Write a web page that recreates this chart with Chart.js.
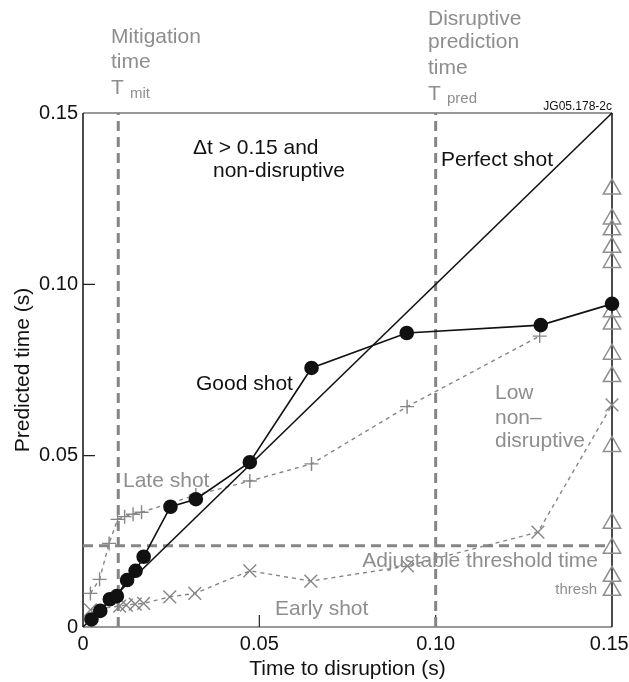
<!DOCTYPE html>
<html>
<head>
<meta charset="utf-8">
<script src="https://cdn.jsdelivr.net/npm/chart.js@4.4.0/dist/chart.umd.min.js"></script>
<style>
  body { margin: 0; background: #fff; }
  canvas { display: block; }
</style>
</head>
<body>
<canvas id="Chart" width="629" height="682"></canvas>
<script>
// good shot (black circles)
var goodX = [0.0024, 0.0049, 0.0076, 0.0096, 0.0125, 0.0149, 0.0172, 0.0248, 0.032, 0.0473, 0.0648, 0.0918, 0.1298, 0.15];
var goodY = [0.0022, 0.0047, 0.0081, 0.0090, 0.0137, 0.0164, 0.0205, 0.0351, 0.0373, 0.0481, 0.0756, 0.0858, 0.0881, 0.0943];
// late shot (+)
var lateX = [0.0021, 0.0047, 0.0074, 0.0098, 0.0118, 0.0142, 0.0166, 0.032, 0.0473, 0.0648, 0.0919, 0.1295];
var lateY = [0.0098, 0.0139, 0.0244, 0.0314, 0.0322, 0.0329, 0.0335, 0.0385, 0.0426, 0.0476, 0.0643, 0.0849];
// early shot (x)
var earlyX = [0.0021, 0.0104, 0.0123, 0.0148, 0.0172, 0.0246, 0.0317, 0.0473, 0.0646, 0.092, 0.129, 0.15];
var earlyY = [0.0050, 0.0061, 0.0064, 0.0067, 0.0069, 0.0088, 0.0098, 0.0164, 0.0134, 0.0178, 0.0277, 0.0648];
// dt > 0.15 and non-disruptive (triangles at the right edge)
var nonDisrX = 0.15;
var nonDisrY = [0.1278, 0.1191, 0.1159, 0.1108, 0.1064, 0.0920, 0.0884, 0.0796, 0.0731, 0.0527, 0.0303, 0.0230, 0.0148, 0.0107];
// perfect shot diagonal
var perfectX = [0, 0.15];
var perfectY = [0, 0.15];
// reference times
var tMit = 0.01;
var tPred = 0.10;
var tThresh = 0.0237;

var xTicks = [0, 0.05, 0.10, 0.15];
var xTickLabels = ['0', '0.05', '0.10', '0.15 '];
var yTicks = [0, 0.05, 0.10, 0.15];
var yTickLabels = ['0', '0.05', '0.10', '0.15'];

var gray = '#8e8e8e';
var dashGray = '#858585';

function pts(xs, ys) {
  return xs.map(function (x, i) { return { x: x, y: ys[i] }; });
}

var notes = [
  { t: 'Mitigation', x: 111, y: 43, c: gray, s: 21 },
  { t: 'time', x: 111, y: 68, c: gray, s: 21 },
  { t: 'T', x: 111, y: 94, c: gray, s: 21 },
  { t: 'mit', x: 130, y: 98, c: gray, s: 15 },
  { t: 'Disruptive', x: 428, y: 25, c: gray, s: 21 },
  { t: 'prediction', x: 428, y: 48, c: gray, s: 21 },
  { t: 'time', x: 428, y: 74, c: gray, s: 21 },
  { t: 'T', x: 428, y: 100, c: gray, s: 21 },
  { t: 'pred', x: 447, y: 103, c: gray, s: 15 },
  { t: 'JG05.178-2c', x: 612, y: 110, c: '#111', s: 12, a: 'right' },
  { t: 'Δt > 0.15 and', x: 193, y: 154, c: '#111', s: 21 },
  { t: 'non-disruptive', x: 213, y: 177, c: '#111', s: 21 },
  { t: 'Perfect shot', x: 441, y: 166, c: '#111', s: 21 },
  { t: 'Good shot', x: 196, y: 390, c: '#111', s: 21 },
  { t: 'Late shot', x: 123, y: 487, c: gray, s: 21 },
  { t: 'Low', x: 495, y: 399, c: gray, s: 21 },
  { t: 'non–', x: 495, y: 424, c: gray, s: 21 },
  { t: 'disruptive', x: 495, y: 447, c: gray, s: 21 },
  { t: 'Adjustable threshold time', x: 598, y: 567, c: gray, s: 21, a: 'right' },
  { t: 'thresh', x: 597, y: 594, c: gray, s: 15, a: 'right' },
  { t: 'Early shot', x: 275, y: 615, c: gray, s: 21 }
];

var framePlugin = {
  id: 'frame',
  beforeDatasetsDraw: function (chart) {
    var ctx = chart.ctx, a = chart.chartArea;
    var xs = chart.scales.x, ys = chart.scales.y;
    ctx.save();
    ctx.lineWidth = 1.5;
    ctx.strokeStyle = '#777';
    ctx.beginPath();
    ctx.moveTo(a.left, a.top); ctx.lineTo(a.right, a.top);
    ctx.moveTo(a.left, a.bottom); ctx.lineTo(a.right, a.bottom);
    ctx.stroke();
    ctx.strokeStyle = '#111';
    ctx.beginPath();
    ctx.moveTo(a.left, a.top); ctx.lineTo(a.left, a.bottom);
    ctx.moveTo(a.right, a.top); ctx.lineTo(a.right, a.bottom);
    ctx.stroke();
    // inward tick marks
    ctx.strokeStyle = '#222';
    ctx.lineWidth = 1.2;
    ctx.beginPath();
    xTicks.slice(1, -1).forEach(function (v) {
      var px = xs.getPixelForValue(v);
      ctx.moveTo(px, a.bottom); ctx.lineTo(px, a.bottom - 12);
    });
    yTicks.slice(1, -1).forEach(function (v) {
      var py = ys.getPixelForValue(v);
      ctx.moveTo(a.left, py); ctx.lineTo(a.left + 12, py);
    });
    ctx.stroke();
    ctx.restore();
  },
  afterDraw: function (chart) {
    var ctx = chart.ctx;
    ctx.save();
    ctx.textBaseline = 'alphabetic';
    notes.forEach(function (n) {
      ctx.font = n.s + 'px "Liberation Sans", Arial, sans-serif';
      ctx.fillStyle = n.c;
      ctx.textAlign = n.a || 'left';
      ctx.fillText(n.t, n.x, n.y);
    });
    ctx.restore();
  }
};

Chart.defaults.font.family = '"Liberation Sans", Arial, sans-serif';
Chart.defaults.color = '#111';

var ctx = document.getElementById('Chart').getContext('2d');
var myChart = new Chart(ctx, {
  type: 'scatter',
  data: {
    datasets: [
      {
        label: 'Good shot',
        data: pts(goodX, goodY),
        showLine: true,
        borderColor: '#111',
        backgroundColor: '#111',
        borderWidth: 1.6,
        pointRadius: 6.5,
        pointStyle: 'circle',
        clip: false,
        order: 1
      },
      {
        label: 'Perfect shot',
        data: pts(perfectX, perfectY),
        showLine: true,
        borderColor: '#111',
        borderWidth: 1.6,
        pointRadius: 0,
        clip: false,
        order: 2
      },
      {
        label: 'Late shot',
        data: pts(lateX, lateY),
        showLine: true,
        borderColor: dashGray,
        borderDash: [4, 4],
        borderWidth: 1.4,
        pointStyle: 'cross',
        pointRadius: 7,
        pointBorderColor: dashGray,
        pointBorderWidth: 1.4,
        clip: false,
        order: 3
      },
      {
        label: 'Early shot',
        data: pts(earlyX, earlyY),
        showLine: true,
        borderColor: dashGray,
        borderDash: [4, 4],
        borderWidth: 1.4,
        pointStyle: 'crossRot',
        pointRadius: 9,
        pointBorderColor: dashGray,
        pointBorderWidth: 1.4,
        clip: false,
        order: 4
      },
      {
        label: 'Non-disruptive',
        data: nonDisrY.map(function (y) { return { x: nonDisrX, y: y }; }),
        showLine: false,
        pointStyle: 'triangle',
        pointRadius: 10,
        pointBorderColor: gray,
        pointBackgroundColor: 'rgba(255,255,255,0)',
        pointBorderWidth: 1.5,
        clip: false,
        order: 5
      },
      {
        label: 'Tmit',
        data: [{ x: tMit, y: 0 }, { x: tMit, y: 0.15 }],
        showLine: true, pointRadius: 0,
        borderColor: dashGray, borderWidth: 3, borderDash: [10, 6],
        order: 10
      },
      {
        label: 'Tpred',
        data: [{ x: tPred, y: 0 }, { x: tPred, y: 0.15 }],
        showLine: true, pointRadius: 0,
        borderColor: dashGray, borderWidth: 3, borderDash: [10, 6],
        order: 10
      },
      {
        label: 'Tthresh',
        data: [{ x: 0, y: tThresh }, { x: 0.15, y: tThresh }],
        showLine: true, pointRadius: 0,
        borderColor: dashGray, borderWidth: 3, borderDash: [10, 6],
        order: 10
      }
    ]
  },
  options: {
    responsive: false,
    animation: false,
    layout: { padding: { top: 113, right: 17, left: 0, bottom: 0 } },
    plugins: { legend: { display: false }, tooltip: { enabled: false } },
    scales: {
      x: {
        type: 'linear',
        min: 0, max: 0.15,
        grid: { display: false, drawTicks: false },
        border: { display: false },
        afterBuildTicks: function (scale) { scale.ticks = xTicks.map(function (v) { return { value: v }; }); },
        afterFit: function (scale) {
          scale.height = 55;
          scale.paddingLeft = 0;
          scale.paddingRight = 0;
        },
        ticks: {
          padding: 5,
          maxRotation: 0,
          font: { size: 20 },
          color: '#111',
          callback: function (v, i) { return xTickLabels[i]; }
        },
        title: {
          display: true,
          text: 'Time to disruption (s)',
          font: { size: 21 },
          color: '#111',
          padding: { top: 4, bottom: 0 }
        }
      },
      y: {
        type: 'linear',
        min: 0, max: 0.15,
        grid: { display: false, drawTicks: false },
        border: { display: false },
        afterBuildTicks: function (scale) { scale.ticks = yTicks.map(function (v) { return { value: v }; }); },
        afterFit: function (scale) {
          scale.width = 83;
          scale.paddingTop = 0;
          scale.paddingBottom = 0;
        },
        ticks: {
          padding: 5,
          font: { size: 20 },
          color: '#111',
          callback: function (v, i) { return yTickLabels[i]; }
        },
        title: {
          display: true,
          text: 'Predicted time (s)',
          font: { size: 21 },
          color: '#111',
          padding: { top: 11, bottom: 0 }
        }
      }
    }
  },
  plugins: [framePlugin]
});
</script>
</body>
</html>
